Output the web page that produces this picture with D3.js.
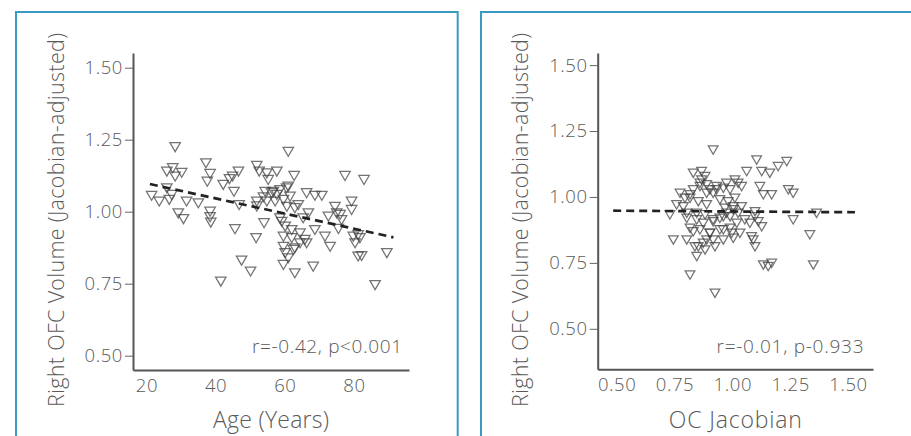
<!DOCTYPE html>
<html>
<head>
<meta charset="utf-8">
<script src="https://cdn.jsdelivr.net/npm/d3@7"></script>
<style>
  html, body { margin: 0; padding: 0; background: #fff; }
  svg { display: block; }
  text { font-family: "Open Sans", Lato, sans-serif; font-weight: 300; fill: #5a5a5a; }
</style>
</head>
<body>
<svg id="chart" width="911" height="436"></svg>
<script>
// ---- Data ----
const ageValues = [28.3,37.2,25.9,27.6,30.2,28.3,38.4,37.6,42.2,44.0,44.9,46.6,45.3,51.9,52.6,54.8,55.2,57.7,
  21.5,23.7,25.9,26.6,27.3,31.6,35.0,38.4,38.4,38.6,29.2,30.7,46.8,45.6,51.7,54.0,51.9,54.3,56.2,54.8,47.5,50.1,41.5,
  61.0,62.7,77.4,82.9,56.7,58.6,61.0,66.3,68.7,70.7,57.2,59.6,61.5,60.6,62.9,63.9,66.8,65.3,72.6,75.0,76.4,79.3,79.3,
  58.6,60.1,62.0,59.6,62.0,64.4,65.8,66.3,62.9,60.1,62.5,61.0,59.6,62.9,68.2,71.6,73.1,79.8,80.3,81.7,81.2,82.2,89.5,86.1,
  75.5,74.5,59.1,64.4,59.6,68.7,57.7,60.5,53.8,51.9,81.2,76.0];
const ageVolume = [1.224,1.168,1.139,1.151,1.135,1.122,1.131,1.104,1.093,1.113,1.122,1.139,1.069,1.159,1.139,1.133,1.110,1.139,
  1.055,1.035,1.081,1.041,1.058,1.035,1.029,1.000,0.981,0.962,0.994,0.974,1.023,0.939,0.908,0.960,1.035,1.069,1.064,1.035,0.830,0.792,0.757,
  1.208,1.124,1.124,1.110,1.069,1.075,1.087,1.064,1.055,1.055,1.035,1.041,1.052,1.017,1.012,1.023,0.994,0.977,0.983,0.994,0.971,1.035,1.006,
  0.977,0.948,0.936,0.913,0.908,0.925,0.902,0.890,0.873,0.856,0.867,0.838,0.815,0.786,0.809,0.913,0.878,0.913,0.890,0.908,0.844,0.846,0.856,0.745,
  0.940,1.017,0.965,0.890,0.878,0.936,1.058,1.081,1.050,1.018,0.919,0.989];
const ageFitX = [21.0, 91.4];
const ageFitY = [1.096, 0.911];

const ocValues = [0.917,1.105,1.062,1.127,1.162,1.198,1.235,1.119,1.134,1.170,1.242,1.263,1.263,1.364,1.335,1.350,1.134,1.155,1.170,
  0.745,0.817,0.925,0.846,0.838,1.098,1.090,1.083,1.127,1.112,1.098,1.054,1.004,0.997,0.925,0.889,0.917,
  0.831,0.867,0.882,0.831,0.860,0.889,0.817,0.853,0.889,0.932,0.961,0.990,1.011,1.025,1.040,0.946,0.982,1.011,0.968,1.004,1.040,
  0.803,0.846,0.882,0.917,0.946,0.990,1.025,1.098,0.817,0.860,0.903,0.946,0.990,1.033,0.803,0.874,0.961,
  0.730,0.759,0.795,0.788,0.774,0.817,0.860,0.889,0.831,0.853,0.882,0.803,0.917,0.975,
  0.867,0.903,0.932,0.975,0.846,0.874,1.004,1.019,0.903,0.961,1.076,0.917,0.961];
const ocVolume = [1.178,1.140,1.096,1.096,1.090,1.115,1.134,1.039,1.008,1.008,1.027,1.014,0.913,0.938,0.856,0.742,0.742,0.736,0.748,
  0.837,0.704,0.635,0.774,0.811,0.811,0.837,0.849,0.887,0.906,0.944,0.913,0.843,0.862,0.811,0.837,0.837,
  1.090,1.096,1.077,1.027,1.039,1.014,0.995,0.982,0.970,1.027,1.033,1.027,1.064,1.052,1.039,0.989,0.982,0.995,0.957,0.951,0.963,
  0.919,0.913,0.932,0.906,0.919,0.925,0.938,0.925,0.881,0.875,0.862,0.875,0.881,0.862,0.837,0.824,0.837,
  0.932,0.970,0.995,0.963,1.014,1.008,1.052,1.046,0.868,0.811,0.799,0.938,1.014,0.938,
  1.064,1.027,1.039,1.052,0.938,0.900,0.963,0.900,0.862,0.875,0.900,0.913,0.925];
const ocFitX = [0.485, 1.530];
const ocFitY = [0.948, 0.942];

const yTicks = [0.50, 0.75, 1.00, 1.25, 1.50];
const ageTicks = [20, 40, 60, 80];
const ocTicks = [0.50, 0.75, 1.00, 1.25, 1.50];
const yTitle = "Right OFC Volume (Jacobian-adjusted)";
const ageTitle = "Age (Years)";
const ocTitle = "OC Jacobian";
const ageStat = "r=-0.42, p<0.001";
const ocStat = "r=-0.01, p-0.933";

// ---- Drawing ----
const svg = d3.select("#chart");
svg.append("rect").attr("width", 911).attr("height", 436).attr("fill", "#fff");

// panel frames
svg.append("path").attr("d", "M16,440 V12 H457.7 V440")
  .attr("fill", "none").attr("stroke", "#3a9bc2").attr("stroke-width", 2);
svg.append("path").attr("d", "M481,440 V12 H915")
  .attr("fill", "none").attr("stroke", "#3a9bc2").attr("stroke-width", 2);

const downTri = {
  draw(ctx, size) {
    const w = Math.sqrt(size), h = w * 0.86;
    ctx.moveTo(-w / 2, -h / 2);
    ctx.lineTo(w / 2, -h / 2);
    ctx.lineTo(0, h / 2);
    ctx.closePath();
  }
};

function panel(opt) {
  const g = svg.append("g");
  const x = d3.scaleLinear().domain(opt.xDomain).range(opt.xRange);
  const y = d3.scaleLinear().domain(opt.yDomain).range(opt.yRange);

  // points
  const sym = d3.symbol().type(downTri).size(opt.symSize);
  g.append("g").selectAll("path").data(opt.xs.map((v, i) => [v, opt.ys[i]]))
    .join("path")
    .attr("transform", d => `translate(${x(d[0])},${y(d[1])})`)
    .attr("d", sym)
    .attr("fill", "none")
    .attr("stroke", "#444")
    .attr("stroke-opacity", 0.75)
    .attr("stroke-width", 1.25);

  // fit line
  const line = d3.line().x(d => x(d[0])).y(d => y(d[1]));
  g.append("path").datum(opt.fitX.map((v, i) => [v, opt.fitY[i]]))
    .attr("d", line)
    .attr("fill", "none").attr("stroke", "#222")
    .attr("stroke-width", 2.7).attr("stroke-dasharray", "8,5");

  // axes
  const yAxis = d3.axisLeft(y).tickValues(yTicks).tickFormat(d3.format(".2f"))
    .tickSizeInner(8).tickSizeOuter(0).tickPadding(2);
  const ya = g.append("g").attr("transform", `translate(${opt.xRange[0]},0)`).call(yAxis);
  ya.select(".domain").attr("stroke", "#555").attr("stroke-width", 2);
  ya.selectAll(".tick line").attr("stroke", "#666").attr("stroke-width", 1);
  ya.selectAll(".tick text").attr("font-size", 18.5).attr("fill", "#5a5a5a")
    .attr("letter-spacing", 0.6)
    .attr("font-family", "'Open Sans', sans-serif").attr("font-weight", 300);

  const xAxis = d3.axisBottom(x).tickValues(opt.xTicks).tickFormat(opt.xFormat)
    .tickSizeInner(0).tickSizeOuter(0).tickPadding(9);
  const xa = g.append("g").attr("transform", `translate(0,${opt.yRange[0]})`).call(xAxis);
  xa.select(".domain").attr("stroke", "#555").attr("stroke-width", 2);
  xa.selectAll(".tick text").attr("font-size", 18.5).attr("fill", "#5a5a5a")
    .attr("letter-spacing", 0.6)
    .attr("font-family", "'Open Sans', sans-serif").attr("font-weight", 300);

  // y title
  g.append("text")
    .attr("transform", `translate(${opt.yTitleX},220) rotate(-90)`)
    .attr("text-anchor", "middle")
    .attr("font-size", 21.5)
    .attr("textLength", 374).attr("lengthAdjust", "spacing")
    .attr("fill", "#666")
    .text(yTitle);
  // x title
  g.append("text")
    .attr("x", (opt.xRange[0] + opt.xRange[1]) / 2)
    .attr("y", 428)
    .attr("text-anchor", "middle")
    .attr("font-size", 23)
    .attr("textLength", opt.xTitleLen).attr("lengthAdjust", "spacing")
    .attr("fill", "#666")
    .text(opt.xTitle);
  // stat
  g.append("text")
    .attr("x", opt.statX).attr("y", 353)
    .attr("text-anchor", "end")
    .attr("font-size", 19)
    .attr("textLength", opt.statLen).attr("lengthAdjust", "spacing")
    .attr("fill", "#5a5a5a")
    .text(opt.stat);
}

panel({
  xs: ageValues, ys: ageVolume, fitX: ageFitX, fitY: ageFitY,
  xDomain: [16.12, 95.9], xRange: [133, 409],
  yDomain: [0.4503, 1.551], yRange: [370, 53],
  xTicks: ageTicks, xFormat: d3.format("d"),
  xTitle: ageTitle, xTitleLen: 116, stat: ageStat, statLen: 150, statX: 402,
  yTitleX: 64, symSize: 110
});

panel({
  xs: ocValues, ys: ocVolume, fitX: ocFitX, fitY: ocFitY,
  xDomain: [0.418, 1.608], xRange: [597.7, 873],
  yDomain: [0.3464, 1.546], yRange: [369.3, 53],
  xTicks: ocTicks, xFormat: d3.format(".2f"),
  xTitle: ocTitle, xTitleLen: 133, stat: ocStat, statLen: 147, statX: 863.5,
  yTitleX: 527.5, symSize: 95
});
</script>
</body>
</html>
